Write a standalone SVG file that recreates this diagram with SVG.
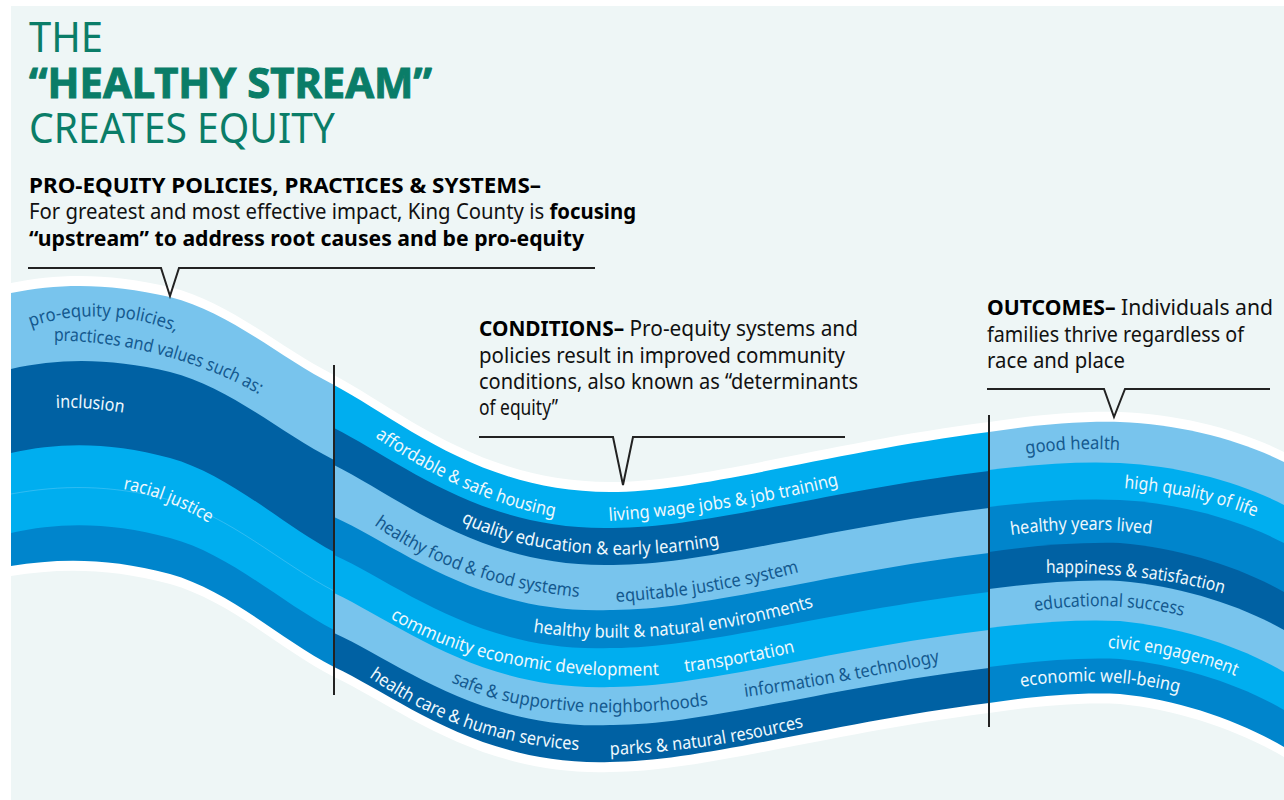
<svg xmlns="http://www.w3.org/2000/svg" width="1284" height="800" viewBox="0 0 1284 800">
<style>
.bg{fill:#eef6f6}.w{fill:#fff}
.l{fill:#78c4ed}.d{fill:#0061a3}.b{fill:#00aeef}.m{fill:#0085cc}
.t{font-family:"Noto Sans","Open Sans",sans-serif}
.h{fill:#0a7d68;font-size:41px}
.hb{font-weight:700;stroke:#0a7d68;stroke-width:1}
.s{fill:#111;font-size:21px}
.bk{font-weight:700;fill:#000}
.lb{font-family:"Noto Sans","Open Sans",sans-serif;font-size:18px}
.lw{fill:#eef8fd}.ld{fill:#14598f}
.ln{fill:none;stroke:#222;stroke-width:2}
.hair{fill:none;stroke:#7fd3f6;stroke-width:.7;opacity:.55}
</style>
<defs>
<path id="p1" d="M31 327C70 312 130 312 178 333"/>
<path id="p2" d="M54 341C120 340 200 360 260 395"/>
<path id="p3" d="M56 408C78 407 100 409 124 413"/>
<path id="p4" d="M123 489C155 495 185 508 212 525"/>
<path id="p5" d="M375 437C430 475 490 505 556 517"/>
<path id="p6" d="M461 522C520 552 620 565 720 545"/>
<path id="p7" d="M374 525C430 565 500 590 580 597"/>
<path id="p8" d="M616 602C680 598 740 588 799 572"/>
<path id="p9" d="M533 632C620 645 720 635 813 607"/>
<path id="p10" d="M390 618C450 655 540 680 658 675"/>
<path id="p11" d="M685 672C720 668 760 660 795 652"/>
<path id="p12" d="M451 682C510 712 610 720 708 705"/>
<path id="p13" d="M745 697C810 688 880 675 940 662"/>
<path id="p14" d="M369 677C430 720 500 745 579 750"/>
<path id="p15" d="M610 755C680 752 745 742 803 727"/>
<path id="p16" d="M1026 454Q1075 447 1120 450"/>
<path id="p17" d="M1124 488C1170 492 1215 500 1258 518"/>
<path id="p18" d="M1011 535Q1080 525 1152 534"/>
<path id="p19" d="M1046 573C1105 572 1170 578 1225 594"/>
<path id="p20" d="M1035 611C1085 603 1140 605 1183 616"/>
<path id="p21" d="M1108 648C1150 650 1200 660 1238 677"/>
<path id="p22" d="M1021 687C1070 678 1130 680 1180 693"/>
<path id="p23" d="M609 521C680 516 760 505 839 485"/>
</defs>
<rect width="1284" height="800" fill="#fff"/>
<rect class="bg" x="11" y="6" width="1273" height="794"/>

<g id="stream">
<g id="halo-top" class="w">
<path d="M11 283C60 273 110 273 170 287C230 302 280 348 334 375C400 410 480 482 610 482C700 482 830 442 989 422C1030 416 1075 411 1120 412C1180 414 1240 430 1284 452V600H11Z"/>
</g>
<g id="section-a">
<path class="l" d="M11 293C60 283 110 283 170 297C230 312 280 358 334 385V720H11Z"/>
<path class="d" d="M11 369C60 358 110 358 170 372C230 387 280 433 334 460V720H11Z"/>
<path class="b" d="M11 453C60 442 110 442 170 458C230 475 280 523 334 552V720H11Z"/>
<path class="m" d="M11 533C60 522 110 522 170 538C230 554 280 602 334 630V720H11Z"/>
<path class="hair" d="M11 494C60 485 110 484 170 500C230 516 280 563 334 591"/>
</g>
<g id="section-b">
<path class="b" d="M334 385C400 420 480 492 610 492C700 492 830 452 989 432V790H334Z"/>
<path class="d" d="M334 428C400 461 480 530 610 528C700 529 830 490 989 471V790H334Z"/>
<path class="l" d="M334 465C400 498 480 567 610 565C700 566 830 527 989 508V790H334Z"/>
<path class="m" d="M334 517C400 547 480 615 610 610C700 611 830 572 989 553V790H334Z"/>
<path class="b" d="M334 555C400 585 480 653 610 648C700 649 830 611 989 592V790H334Z"/>
<path class="l" d="M334 593C400 624 480 691 610 687C700 688 830 649 989 630V790H334Z"/>
<path class="d" d="M334 633C400 663 480 730 610 725C700 726 830 687 989 668V790H334Z"/>
</g>
<g id="section-c">
<path class="l" d="M989 432C1030 426 1075 421 1120 422C1180 424 1240 440 1284 462V790H989Z"/>
<path class="b" d="M989 470C1030 465 1075 461 1120 463C1180 466 1240 482 1284 505V790H989Z"/>
<path class="m" d="M989 507C1030 502 1075 498 1120 500C1180 503 1240 520 1284 543V790H989Z"/>
<path class="d" d="M989 552C1030 546 1075 542 1120 543C1180 548 1240 567 1284 592V790H989Z"/>
<path class="l" d="M989 589C1030 584 1075 579 1120 581C1180 586 1240 605 1284 630V790H989Z"/>
<path class="b" d="M989 628C1030 623 1075 619 1120 621C1180 627 1240 646 1284 672V790H989Z"/>
<path class="m" d="M989 667C1030 662 1075 657 1120 659C1180 665 1240 684 1284 710V790H989Z"/>
</g>
<g id="below">
<path class="w" d="M11 566C60 558 110 558 170 574C230 591 280 639 334 667C400 698 480 766 610 762C700 762 830 723 989 703C1030 697 1075 692 1120 694C1180 700 1240 721 1284 747V800H11Z"/>
<path class="bg" d="M11 576C60 568 110 568 170 584C230 601 280 649 334 677C400 708 480 776 610 772C700 772 830 733 989 713C1030 707 1075 702 1120 704C1180 710 1240 731 1284 757V800H11Z"/>
</g>
</g>

<g id="connectors">
<path class="ln" d="M28 268H161L170 296L179 268H595"/>
<path class="ln" d="M479 437H613L623 485L633 437H845"/>
<path class="ln" d="M987 389H1104L1114 417L1125 389H1270"/>
<path class="ln" d="M334 365V695"/>
<path class="ln" d="M989 415V727"/>
</g>

<g id="title" class="t h">
<text x="29" y="52" textLength="74" lengthAdjust="spacingAndGlyphs">THE</text>
<text x="29" y="98" textLength="403" lengthAdjust="spacingAndGlyphs" class="hb">“HEALTHY STREAM”</text>
<text x="29" y="143" textLength="306" lengthAdjust="spacingAndGlyphs">CREATES EQUITY</text>
</g>
<g id="policies-text" class="t s">
<text x="29" y="193" class="bk" textLength="512" lengthAdjust="spacingAndGlyphs">PRO-EQUITY POLICIES, PRACTICES &amp; SYSTEMS–</text>
<text x="29" y="219" textLength="607" lengthAdjust="spacingAndGlyphs">For greatest and most effective impact, King County is <tspan class="bk">focusing</tspan></text>
<text x="29" y="246" class="bk" textLength="555" lengthAdjust="spacingAndGlyphs">“upstream” to address root causes and be pro-equity</text>
</g>
<g id="conditions-text" class="t s">
<text x="479" y="336" textLength="379" lengthAdjust="spacingAndGlyphs"><tspan class="bk">CONDITIONS–</tspan> Pro-equity systems and</text>
<text x="479" y="363" textLength="366" lengthAdjust="spacingAndGlyphs">policies result in improved community</text>
<text x="479" y="389" textLength="379" lengthAdjust="spacingAndGlyphs">conditions, also known as “determinants</text>
<text x="479" y="415" textLength="79" lengthAdjust="spacingAndGlyphs">of equity”</text>
</g>
<g id="outcomes-text" class="t s">
<text x="987" y="315" textLength="286" lengthAdjust="spacingAndGlyphs"><tspan class="bk">OUTCOMES–</tspan> Individuals and</text>
<text x="987" y="342" textLength="257" lengthAdjust="spacingAndGlyphs">families thrive regardless of</text>
<text x="987" y="368" textLength="138" lengthAdjust="spacingAndGlyphs">race and place</text>
</g>

<g id="labels" class="lb">
<text class="ld"><textPath href="#p1" textLength="148" lengthAdjust="spacingAndGlyphs">pro-equity policies,</textPath></text>
<text class="ld"><textPath href="#p2" textLength="214" lengthAdjust="spacingAndGlyphs">practices and values such as:</textPath></text>
<text class="lw"><textPath href="#p3" textLength="68" lengthAdjust="spacingAndGlyphs">inclusion</textPath></text>
<text class="lw"><textPath href="#p4" textLength="93" lengthAdjust="spacingAndGlyphs">racial justice</textPath></text>
<text class="lw"><textPath href="#p5" textLength="198" lengthAdjust="spacingAndGlyphs">affordable &amp; safe housing</textPath></text>
<text class="lw"><textPath href="#p6" textLength="264" lengthAdjust="spacingAndGlyphs">quality education &amp; early learning</textPath></text>
<text class="ld"><textPath href="#p7" textLength="220" lengthAdjust="spacingAndGlyphs">healthy food &amp; food systems</textPath></text>
<text class="ld"><textPath href="#p8" textLength="186" lengthAdjust="spacingAndGlyphs">equitable justice system</textPath></text>
<text class="lw"><textPath href="#p9" textLength="284" lengthAdjust="spacingAndGlyphs">healthy built &amp; natural environments</textPath></text>
<text class="lw"><textPath href="#p10" textLength="279" lengthAdjust="spacingAndGlyphs">community economic development</textPath></text>
<text class="lw"><textPath href="#p11" textLength="112" lengthAdjust="spacingAndGlyphs">transportation</textPath></text>
<text class="ld"><textPath href="#p12" textLength="262" lengthAdjust="spacingAndGlyphs">safe &amp; supportive neighborhoods</textPath></text>
<text class="ld"><textPath href="#p13" textLength="198" lengthAdjust="spacingAndGlyphs">information &amp; technology</textPath></text>
<text class="lw"><textPath href="#p14" textLength="225" lengthAdjust="spacingAndGlyphs">health care &amp; human services</textPath></text>
<text class="lw"><textPath href="#p15" textLength="196" lengthAdjust="spacingAndGlyphs">parks &amp; natural resources</textPath></text>
<text class="ld"><textPath href="#p16" textLength="94" lengthAdjust="spacingAndGlyphs">good health</textPath></text>
<text class="lw"><textPath href="#p17" textLength="135" lengthAdjust="spacingAndGlyphs">high quality of life</textPath></text>
<text class="lw"><textPath href="#p18" textLength="141" lengthAdjust="spacingAndGlyphs">healthy years lived</textPath></text>
<text class="lw"><textPath href="#p19" textLength="179" lengthAdjust="spacingAndGlyphs">happiness &amp; satisfaction</textPath></text>
<text class="ld"><textPath href="#p20" textLength="149" lengthAdjust="spacingAndGlyphs">educational success</textPath></text>
<text class="lw"><textPath href="#p21" textLength="131" lengthAdjust="spacingAndGlyphs">civic engagement</textPath></text>
<text class="lw"><textPath href="#p22" textLength="159" lengthAdjust="spacingAndGlyphs">economic well-being</textPath></text>
<text class="lw"><textPath href="#p23" textLength="233" lengthAdjust="spacingAndGlyphs">living wage jobs &amp; job training</textPath></text>
</g>
</svg>
